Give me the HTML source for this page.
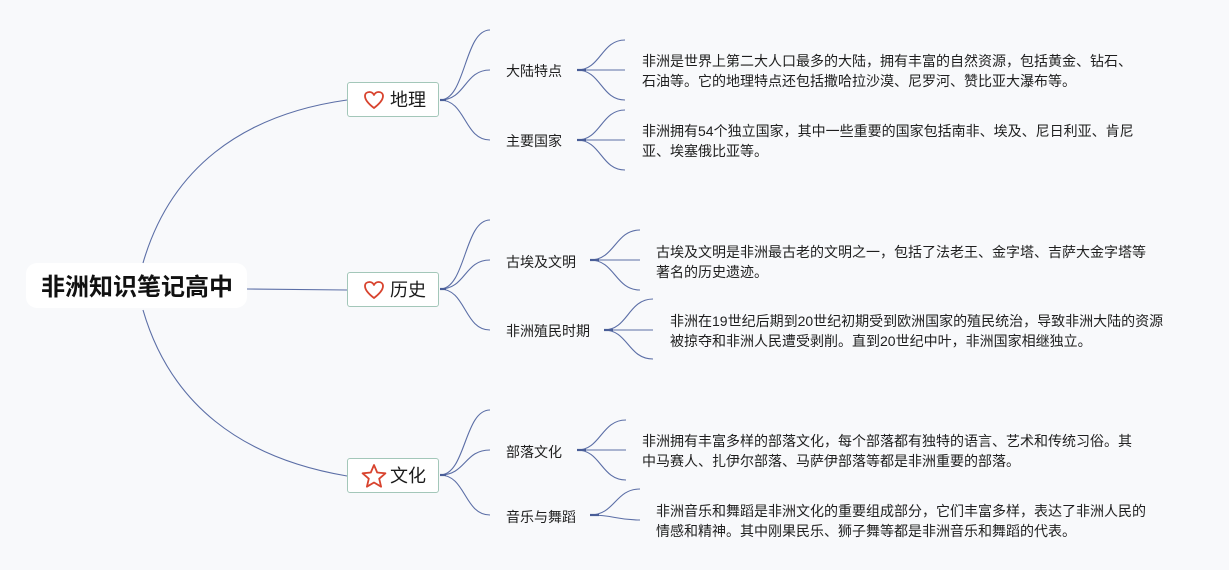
<!DOCTYPE html>
<html><head><meta charset="utf-8">
<style>
html,body{margin:0;padding:0;}
body{width:1229px;height:570px;background:#f8f9fb;position:relative;overflow:hidden;font-family:"Liberation Sans","Noto Sans CJK SC",sans-serif;color:#1e1e1e;}
svg{position:absolute;left:0;top:0;}
.t{position:absolute;white-space:nowrap;}
.central{position:absolute;left:26px;top:263px;width:221px;height:45px;background:#fff;border-radius:11px;}
.ct{position:absolute;left:41px;top:272px;font-size:24px;font-weight:bold;line-height:32px;color:#111;letter-spacing:0;}
.box{position:absolute;left:347px;width:90px;height:33px;background:#fff;border:1.5px solid #a3c7b9;border-radius:3px;}
.mt{position:absolute;left:390px;font-size:18px;line-height:24px;color:#1a1a1a;}
.st{position:absolute;left:506px;font-size:14px;line-height:20px;color:#1e1e1e;}
.dt{position:absolute;font-size:14px;line-height:20px;color:#1e1e1e;white-space:nowrap;}
</style></head><body>
<div class="central"></div>
<div class="box" style="top:82px"></div>
<div class="box" style="top:272px"></div>
<div class="box" style="top:458px"></div>

<svg width="1229" height="570" viewBox="0 0 1229 570">
<g fill="none" stroke="#5b6ea6" stroke-width="1.1">
 <!-- root connectors -->
 <path d="M143,263 C170,170 240,115 347,100"/>
 <path d="M143,310 C170,403 240,458 347,476"/>
 <path d="M247,289 L347,290"/>
 <!-- 地理 -->
 <path d="M440,100 C466,100 464,30 490,30"/>
 <path d="M440,100 C466,100 464,70 490,70"/>
 <path d="M440,100 C466,100 464,140 490,140"/>
 <!-- 历史 -->
 <path d="M440,289 C466,289 464,220 490,220"/>
 <path d="M440,289 C466,289 464,260 490,260"/>
 <path d="M440,289 C466,289 464,330 490,330"/>
 <!-- 文化 -->
 <path d="M440,475 C466,475 464,410 490,410"/>
 <path d="M440,475 C466,475 464,450 490,450"/>
 <path d="M440,475 C466,475 464,515 490,515"/>
 <!-- 大陆特点 fan -->
 <path d="M577,70 C601,70 601,40 625,40"/>
 <path d="M577,70 L625,70"/>
 <path d="M577,70 C601,70 601,100 625,100"/>
 <!-- 主要国家 fan -->
 <path d="M577,140 C601,140 601,110 625,110"/>
 <path d="M577,140 L625,140"/>
 <path d="M577,140 C601,140 601,170 625,170"/>
 <!-- 古埃及文明 fan -->
 <path d="M590,260 C615,260 615,230 640,230"/>
 <path d="M590,260 L640,260"/>
 <path d="M590,260 C615,260 615,290 640,290"/>
 <!-- 非洲殖民时期 fan -->
 <path d="M604,330 C628,330 628,299 653,299"/>
 <path d="M604,330 L653,330"/>
 <path d="M604,330 C628,330 628,359 653,359"/>
 <!-- 部落文化 fan -->
 <path d="M577,450 C601,450 601,420 626,420"/>
 <path d="M577,450 L626,450"/>
 <path d="M577,450 C601,450 601,480 626,480"/>
 <!-- 音乐与舞蹈 fan -->
 <path d="M590,515 C615,515 615,489 640,489"/>
 <path d="M590,515 C615,515 615,520 640,520"/>
</g>
<g stroke="#4a5e98" stroke-width="2.2">
 <path d="M440,100 L446,100"/><path d="M440,289 L446,289"/><path d="M440,475 L446,475"/>
 <path d="M577,70 L586,70"/><path d="M577,140 L586,140"/><path d="M590,260 L599,260"/>
 <path d="M604,330 L613,330"/><path d="M577,450 L586,450"/><path d="M590,515 L599,515"/>
</g>
<!-- hearts -->
<g fill="none" stroke="#d8432e" stroke-width="1.8" stroke-linejoin="round">
 <path d="M374,108 C366,102 365,98 365,96 C365,93.5 367,92 369.5,92 C371.5,92 373,93 374,95 C375,93 376.5,92 378.5,92 C381,92 383,93.5 383,96 C383,98 382,102 374,108 Z"/>
 <path d="M374,298 C366,292 365,288 365,286 C365,283.5 367,282 369.5,282 C371.5,282 373,283 374,285 C375,283 376.5,282 378.5,282 C381,282 383,283.5 383,286 C383,288 382,292 374,298 Z"/>
 <polygon points="374,465 377.2,472.5 385.4,473.3 379.2,478.7 381.1,486.7 374,482.5 366.9,486.7 368.8,478.7 362.6,473.3 370.8,472.5"/>
</g>
</svg>

<div class="ct">非洲知识笔记高中</div>
<div class="mt" style="top:88px">地理</div>
<div class="mt" style="top:278px">历史</div>
<div class="mt" style="top:464px">文化</div>

<div class="st" style="top:61px">大陆特点</div>
<div class="st" style="top:131px">主要国家</div>
<div class="st" style="top:252px">古埃及文明</div>
<div class="st" style="top:321px">非洲殖民时期</div>
<div class="st" style="top:442px">部落文化</div>
<div class="st" style="top:507px">音乐与舞蹈</div>

<div class="dt" style="left:642px;top:51px">非洲是世界上第二大人口最多的大陆，拥有丰富的自然资源，包括黄金、钻石、<br>石油等。它的地理特点还包括撒哈拉沙漠、尼罗河、赞比亚大瀑布等。</div>
<div class="dt" style="left:642px;top:121px">非洲拥有54个独立国家，其中一些重要的国家包括南非、埃及、尼日利亚、肯尼<br>亚、埃塞俄比亚等。</div>
<div class="dt" style="left:656px;top:242px">古埃及文明是非洲最古老的文明之一，包括了法老王、金字塔、吉萨大金字塔等<br>著名的历史遗迹。</div>
<div class="dt" style="left:670px;top:311px">非洲在19世纪后期到20世纪初期受到欧洲国家的殖民统治，导致非洲大陆的资源<br>被掠夺和非洲人民遭受剥削。直到20世纪中叶，非洲国家相继独立。</div>
<div class="dt" style="left:642px;top:431px">非洲拥有丰富多样的部落文化，每个部落都有独特的语言、艺术和传统习俗。其<br>中马赛人、扎伊尔部落、马萨伊部落等都是非洲重要的部落。</div>
<div class="dt" style="left:656px;top:501px">非洲音乐和舞蹈是非洲文化的重要组成部分，它们丰富多样，表达了非洲人民的<br>情感和精神。其中刚果民乐、狮子舞等都是非洲音乐和舞蹈的代表。</div>
</body></html>
